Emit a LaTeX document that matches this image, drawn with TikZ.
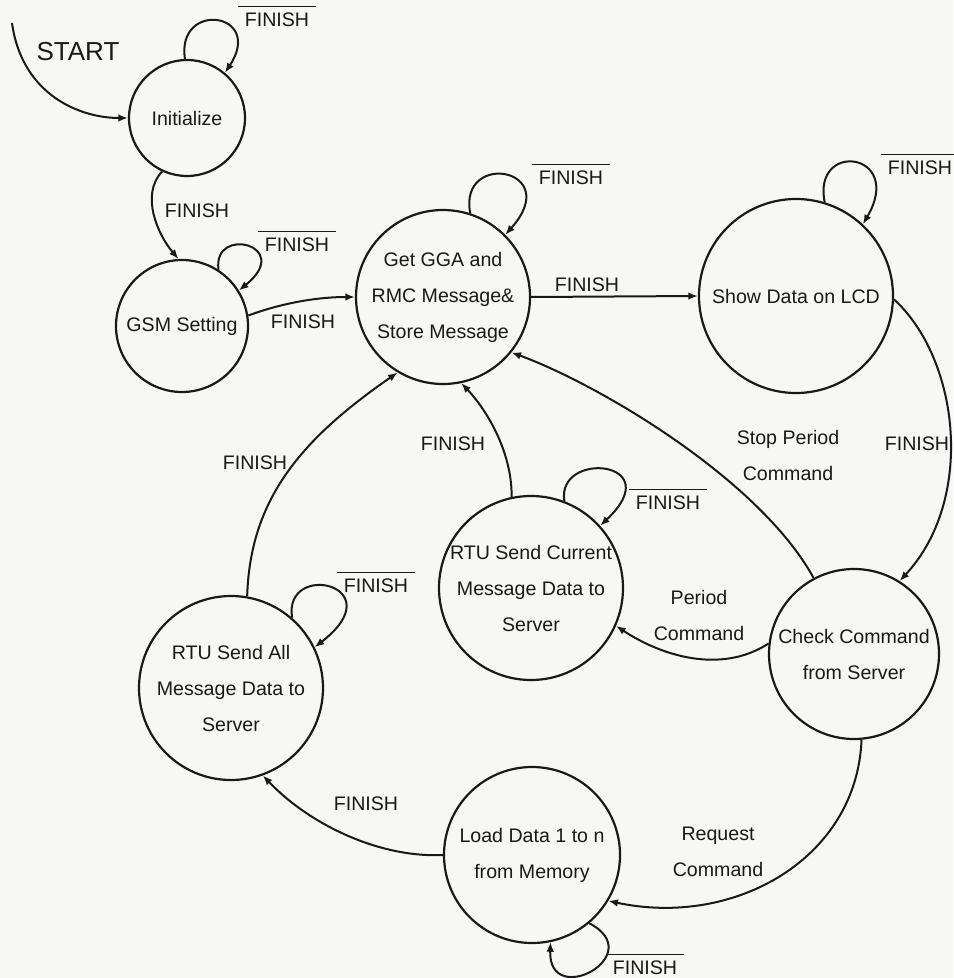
\documentclass[tikz,border=0pt]{standalone}
\usepackage{fontspec}
\setmainfont{Liberation Sans}
\usetikzlibrary{arrows.meta}
\definecolor{ink}{RGB}{25,25,25}
\definecolor{paper}{RGB}{247,247,246}
\begin{document}
\begin{tikzpicture}[
  x={(0.5pt,0)}, y={(0,-0.5pt)},
  state/.style={circle, draw=ink, line width=1.1pt, inner sep=0pt, align=center,
    text=ink, font=\fontsize{9.8}{18}\selectfont},
  arr/.style={draw=ink, line width=1pt, -{Latex[length=4.8pt,width=3.8pt]}},
  lbl/.style={text=ink, align=center, inner sep=0pt, font=\fontsize{9.8}{18}\selectfont},
  notfin/.style={text=ink, inner sep=3pt, font=\fontsize{9.8}{18}\selectfont,
    append after command={(\tikzlastnode.north west) edge[draw=ink, line width=0.8pt] (\tikzlastnode.north east)}},
]
% canvas
\fill[paper] (0,0) rectangle (953,978);
\useasboundingbox (0,0) rectangle (953,978);

% states
\node[state, minimum size=58pt] (init) at (187,118) {Initialize};
\node[state, minimum size=66pt] (gsm)  at (182,326) {GSM Setting};
\node[state, minimum size=87pt] (gga)  at (443,297) {Get GGA and\\RMC Message\&\\Store Message};
\node[state, minimum size=97pt] (lcd)  at (796,296) {Show Data on LCD};
\node[state, minimum size=92pt] (cur)  at (531,588) {RTU Send Current\\Message Data to\\Server};
\node[state, minimum size=85pt] (chk)  at (854,654) {Check Command\\from Server};
\node[state, minimum size=92pt] (all)  at (231,688) {RTU Send All\\Message Data to\\Server};
\node[state, minimum size=88pt] (load) at (532,855) {Load Data 1 to n\\from Memory};

% entry
\coordinate (s0) at (12,23);
\draw[arr] (s0) .. controls (22,95) and (80,118) .. (init.west);
\node[text=ink, inner sep=0pt, font=\fontsize{13}{15}\selectfont] (start) at (78,52) {START};

% self loops
\draw[arr] (init.92) .. controls (176,0) and (265,12) .. (init.50);
\node[notfin] (n1) at (277,20) {FINISH};
\draw[arr] (gsm.57) .. controls (212,225) and (295,245) .. (gsm.32);
\node[notfin] (n2) at (297,245) {FINISH};
\draw[arr] (gga.72) .. controls (458,150) and (565,168) .. (gga.45);
\node[notfin] (n3) at (571,178) {FINISH};
\draw[arr] (lcd.73) .. controls (812,140) and (905,152) .. (lcd.47);
\node[notfin] (n4) at (920,168) {FINISH};
\draw[arr] (cur.69) .. controls (556,450) and (670,460) .. (cur.42);
\node[notfin] (n5) at (668,503) {FINISH};
\draw[arr] (all.49) .. controls (283,560) and (395,585) .. (all.26);
\node[notfin] (n6) at (376,586) {FINISH};
\draw[arr] (load.-50) .. controls (650,955) and (548,1010) .. (load.-78);
\node[notfin] (n7) at (645,968) {FINISH};

% transitions
\draw[arr] (init.245) .. controls (140,195) and (158,235) .. (gsm.93);
\node[lbl] (t1) at (197,211) {FINISH};
\draw[arr] (gsm.9) .. controls (285,302) and (320,297) .. (gga.west);
\node[lbl] (t2) at (303,322) {FINISH};
\draw[arr] (gga.east) -- (lcd.west);
\node[lbl] (t3) at (587,285) {FINISH};
\draw[arr] (lcd.-2) .. controls (960,360) and (975,500) .. (chk.58);
\node[lbl] (t4) at (917,444) {FINISH};
\draw[arr] (chk.118) .. controls (760,480) and (600,385) .. (gga.-39);
\node[lbl] (t5) at (788,455) {Stop Period\\Command};
\draw[arr] (chk.173) .. controls (720,675) and (660,655) .. (cur.-24);
\node[lbl] (t6) at (699,615) {Period\\Command};
\draw[arr] (cur.102) .. controls (512,450) and (485,408) .. (gga.-78);
\node[lbl] (t7) at (453,444) {FINISH};
\draw[arr] (all.80) .. controls (250,500) and (300,440) .. (gga.-121);
\node[lbl] (t8) at (255,463) {FINISH};
\draw[arr] (load.west) .. controls (380,858) and (310,825) .. (all.-70);
\node[lbl] (t9) at (366,804) {FINISH};
\draw[arr] (chk.-85) .. controls (857,858) and (735,928) .. (load.-31);
\node[lbl] (t10) at (718,852) {Request\\Command};
\end{tikzpicture}
\end{document}
